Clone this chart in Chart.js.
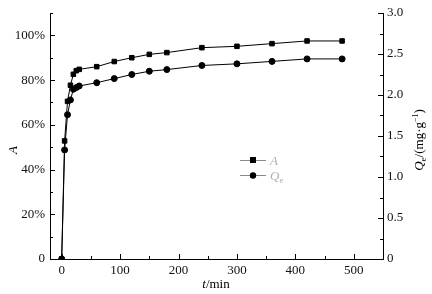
<!DOCTYPE html>
<html>
<head>
<meta charset="utf-8">
<script src="https://cdn.jsdelivr.net/npm/chart.js@4.4.0/dist/chart.umd.min.js"></script>
<style>
  html, body { margin: 0; padding: 0; background: #fff; }
  #wrap { width: 432px; height: 294px; }
</style>
</head>
<body>
<div id="wrap"><canvas id="chart" width="432" height="294"></canvas></div>
<script>
// data
const times = [0, 5, 10, 15, 20, 25, 30, 60, 90, 120, 150, 180, 240, 300, 360, 420, 480];
const removalA = [0, 52.8, 70.5, 77.7, 82.6, 84.2, 84.8, 86, 88.3, 90, 91.5, 92.3, 94.5, 95.1, 96.3, 97.5, 97.5];
const capacityQe = [0, 1.33, 1.76, 1.94, 2.07, 2.09, 2.11, 2.15, 2.2, 2.25, 2.29, 2.31, 2.36, 2.38, 2.41, 2.44, 2.44];

const xTicks = [0, 100, 200, 300, 400, 500];
const xMinor = [50, 150, 250, 350, 450];
const leftTicks = [0, 20, 40, 60, 80, 100];
const leftMinor = [10, 30, 50, 70, 90, 110];
const rightTicks = [0, 0.5, 1, 1.5, 2, 2.5, 3];
const rightMinor = [0.25, 0.75, 1.25, 1.75, 2.25, 2.75];

const FONT = 'Liberation Serif, Times New Roman, serif';
const tickFont = { family: FONT, size: 13 };

const setTicks = (vals) => (scale) => { scale.ticks = vals.map((v) => ({ value: v })); };

// inward tick marks, axis titles, legend
const decorations = {
  id: 'decorations',
  afterDraw(chart) {
    const { ctx, chartArea: a } = chart;
    const sx = chart.scales.x, sy = chart.scales.y, sy1 = chart.scales.y1;
    ctx.save();
    ctx.strokeStyle = '#000';
    ctx.lineWidth = 1;
    const hTick = (scale, vals, x0, dir, len) => vals.forEach((v) => {
      const y = Math.round(scale.getPixelForValue(v)) + 0.5;
      ctx.beginPath(); ctx.moveTo(x0, y); ctx.lineTo(x0 + dir * len, y); ctx.stroke();
    });
    hTick(sy, leftTicks, a.left, 1, 5);
    hTick(sy, leftMinor, a.left, 1, 3);
    hTick(sy1, rightTicks, a.right, -1, 5);
    hTick(sy1, rightMinor, a.right, -1, 3);
    const vTick = (vals, len) => vals.forEach((v) => {
      const x = Math.round(sx.getPixelForValue(v)) + 0.5;
      ctx.beginPath(); ctx.moveTo(x, a.bottom); ctx.lineTo(x, a.bottom - len); ctx.stroke();
    });
    vTick(xTicks, 5);
    vTick(xMinor, 3);

    ctx.fillStyle = '#000';
    ctx.textBaseline = 'alphabetic';

    // x title
    ctx.font = 'italic 13px ' + FONT;
    const tw = ctx.measureText('t').width;
    ctx.font = '13px ' + FONT;
    const mw = ctx.measureText('/min').width;
    let x = 216 - (tw + mw) / 2;
    ctx.font = 'italic 13px ' + FONT;
    ctx.fillText('t', x, 288);
    ctx.font = '13px ' + FONT;
    ctx.fillText('/min', x + tw, 288);

    // left title
    ctx.save();
    ctx.translate(17, 150);
    ctx.rotate(-Math.PI / 2);
    ctx.font = 'italic 13px ' + FONT;
    ctx.textAlign = 'center';
    ctx.fillText('A', 0, 0);
    ctx.restore();

    // right title: Qe/(mg·g-1)
    const parts = [
      { t: 'Q', f: 'italic 13px ', dy: 0 },
      { t: 'e', f: '9px ', dy: 3 },
      { t: '/(mg·g', f: '13px ', dy: 0 },
      { t: '−1', f: '8px ', dy: -5 },
      { t: ')', f: '13px ', dy: 0 }
    ];
    let total = 0;
    parts.forEach((p) => { ctx.font = p.f + FONT; p.w = ctx.measureText(p.t).width; total += p.w; });
    ctx.save();
    ctx.translate(423, 140 + total / 2);
    ctx.rotate(-Math.PI / 2);
    let px = 0;
    parts.forEach((p) => { ctx.font = p.f + FONT; ctx.fillText(p.t, px, p.dy); px += p.w; });
    ctx.restore();

    // legend
    const rows = [
      { y: 160, style: 'rect', label: 'A', sub: '' },
      { y: 175, style: 'circle', label: 'Q', sub: 'e' }
    ];
    rows.forEach((r) => {
      ctx.strokeStyle = '#8a8a8a';
      ctx.beginPath(); ctx.moveTo(240, r.y + 0.5); ctx.lineTo(266, r.y + 0.5); ctx.stroke();
      ctx.fillStyle = '#000';
      if (r.style === 'rect') ctx.fillRect(250, r.y - 3, 6, 6);
      else { ctx.beginPath(); ctx.arc(253, r.y + 0.5, 3.2, 0, Math.PI * 2); ctx.fill(); }
      ctx.fillStyle = '#b0b0b0';
      ctx.font = 'italic 13px ' + FONT;
      ctx.fillText(r.label, 270, r.y + 5);
      if (r.sub) {
        const lw = ctx.measureText(r.label).width;
        ctx.font = '9px ' + FONT;
        ctx.fillText(r.sub, 270 + lw, r.y + 8);
      }
    });
    ctx.restore();
  }
};

new Chart(document.getElementById('chart'), {
  type: 'line',
  data: {
    datasets: [
      {
        label: 'A',
        data: times.map((t, i) => ({ x: t, y: removalA[i] })),
        yAxisID: 'y',
        borderColor: '#000',
        backgroundColor: '#000',
        borderWidth: 1,
        pointStyle: 'rect',
        pointRadius: 3.2,
        pointHoverRadius: 3.2
      },
      {
        label: 'Qe',
        data: times.map((t, i) => ({ x: t, y: capacityQe[i] })),
        yAxisID: 'y1',
        borderColor: '#000',
        backgroundColor: '#000',
        borderWidth: 1,
        pointStyle: 'circle',
        pointRadius: 3,
        pointHoverRadius: 3
      }
    ]
  },
  options: {
    responsive: false,
    animation: false,
    events: [],
    layout: { padding: { top: 13, left: 0, right: 0, bottom: 0 } },
    plugins: { legend: { display: false }, tooltip: { enabled: false } },
    scales: {
      x: {
        type: 'linear',
        min: -20,
        max: 550,
        afterBuildTicks: setTicks(xTicks),
        afterFit: (s) => { s.height = 35; },
        grid: { display: false, drawTicks: false },
        border: { display: true, color: '#000', width: 1 },
        ticks: { font: tickFont, color: '#111', padding: 4, maxRotation: 0 }
      },
      y: {
        position: 'left',
        min: 0,
        max: 110,
        afterBuildTicks: setTicks(leftTicks),
        afterFit: (s) => { s.width = 50; },
        grid: { display: false, drawTicks: false },
        border: { display: true, color: '#000', width: 1 },
        ticks: { font: tickFont, color: '#111', padding: 5, callback: (v) => (v === 0 ? '0' : v + '%') }
      },
      y1: {
        position: 'right',
        min: 0,
        max: 3,
        afterBuildTicks: setTicks(rightTicks),
        afterFit: (s) => { s.width = 49; },
        grid: { display: false, drawTicks: false },
        border: { display: true, color: '#000', width: 1 },
        ticks: { font: tickFont, color: '#111', padding: 4, callback: (v) => (v === 0 ? '0' : v.toFixed(1)) }
      }
    }
  },
  plugins: [decorations]
});
</script>
</body>
</html>
